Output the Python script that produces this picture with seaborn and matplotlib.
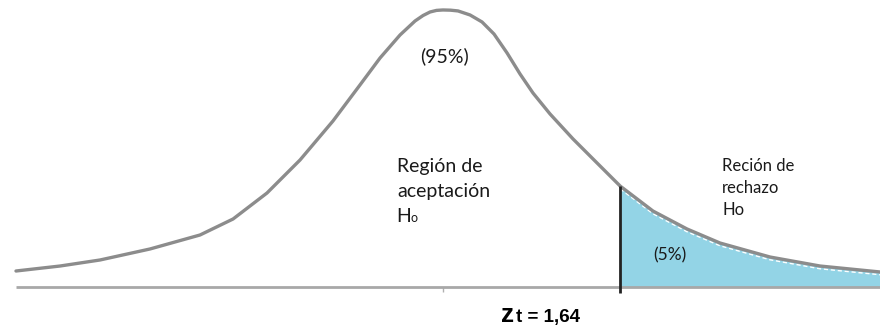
import numpy as np
import pandas as pd
import seaborn as sns
import matplotlib.pyplot as plt

# curve (z units, density height)
z_vals = [-3.954, -3.546, -3.176, -2.713, -2.250, -1.944, -1.630, -1.324, -1.019,
          -0.769, -0.583, -0.398, -0.259, -0.185, -0.120, -0.060, 0.000, 0.070,
          0.139, 0.250, 0.361, 0.472, 0.593, 0.713, 0.833, 0.991, 1.204, 1.426,
          1.640, 1.944, 2.259, 2.565, 3.028, 3.491, 4.046]
dens = [0.0231, 0.0303, 0.0390, 0.0549, 0.0751, 0.0982, 0.1357, 0.1834, 0.2397,
        0.2917, 0.3307, 0.3639, 0.3841, 0.3920, 0.3971, 0.3994, 0.4000, 0.3997,
        0.3986, 0.3928, 0.3827, 0.3653, 0.3379, 0.3076, 0.2801, 0.2498, 0.2137,
        0.1791, 0.1458, 0.1097, 0.0838, 0.0635, 0.0433, 0.0303, 0.0217]
z_crit = 1.64
crit_label = '1,64'
pct_accept = '(95%)'
pct_reject = '(5%)'

df = pd.DataFrame({'z': z_vals, 'f': dens})

sns.set_theme(style='white')
plt.rcParams['font.family'] = ['Lato', 'DejaVu Sans']

fig = plt.figure(figsize=(8.8, 3.28), dpi=100)
ax = fig.add_axes([0, 0, 1, 1])

cola = df[df['z'] >= z_crit]
ax.fill_between(cola['z'], 0, cola['f'], color='#93d4e6', lw=0, zorder=1)
ax.plot(cola['z'], cola['f'] - 0.004, color='white', lw=1, ls=(0, (3, 2)), zorder=2)

sns.lineplot(data=df, x='z', y='f', color='#8c8c8c', lw=2.4, ax=ax, zorder=3)
ax.hlines(0, df['z'].min(), df['z'].max(), color='#a8a8a8', lw=2, zorder=3)
ax.vlines(0, -0.007, 0, color='#b0b0b0', lw=1)
f_crit = df.loc[df['z'] == z_crit, 'f'].iloc[0]
ax.vlines(z_crit, -0.009, f_crit, color='#222222', lw=2, zorder=4)

ax.set_xlim(-4.102, 4.046)
ax.set_ylim(-0.0592, 0.4144)
ax.axis('off')


def px(x, y):
    return x / 880, 1 - y / 328


tr = ax.transAxes
txt = dict(transform=tr, ha='left', va='baseline', color='#1a1a1a')
ax.text(*px(444, 62), pct_accept, transform=tr, ha='center', va='baseline', fontsize=14, color='#1a1a1a')
for i, s in enumerate(['Región de', 'aceptación']):
    ax.text(*px(397, 172 + 25 * i), s, fontsize=14, **txt)
ax.text(*px(396, 222), 'H', fontsize=14, **txt)
ax.text(*px(410, 222), 'o', fontsize=9, **txt)

for i, s in enumerate(['Reción de', 'rechazo', 'Ho']):
    ax.text(*px(722, 171 + 22 * i), s, fontsize=12, **txt)
ax.text(*px(653, 260), pct_reject, fontsize=12.5, **txt)

ax.text(*px(501, 322), 'z', transform=tr, ha='left', va='baseline', fontsize=19,
        fontweight='bold', family='Liberation Sans', color='black')
ax.text(*px(516, 322), 't = ' + crit_label, transform=tr, ha='left', va='baseline', fontsize=13.5,
        fontweight='bold', family='Liberation Sans', color='black')

fig.savefig('out.png', dpi=100)
